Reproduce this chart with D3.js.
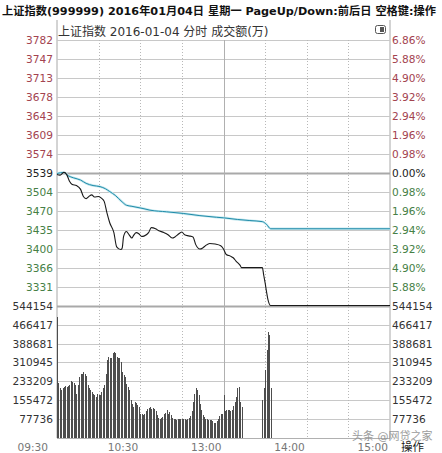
<!DOCTYPE html>
<html><head><meta charset="utf-8">
<script src="https://cdn.jsdelivr.net/npm/d3@7"></script>
<style>
html,body{margin:0;padding:0;background:#fff;}
svg{display:block;}
text{font-family:"DejaVu Sans","Noto Sans CJK SC",sans-serif;}
</style></head>
<body>
<svg id="c" width="442" height="453"></svg>
<script>
// ---- data ----
const titleText = "上证指数(999999) 2016年01月04日 星期一 PageUp/Down:前后日 空格键:操作";
const subTitle = "上证指数  2016-01-04 分时 成交额(万)";
const prevClose = 3539.18;
const priceLabels = ["3782","3747","3713","3678","3643","3609","3574","3539","3504","3470","3435","3400","3366","3331"];
const pctLabels = ["6.86%","5.88%","4.90%","3.92%","2.94%","1.96%","0.98%","0.00%","0.98%","1.96%","2.94%","3.92%","4.90%","5.88%"];
const pctSteps = [7,6,5,4,3,2,1,0,-1,-2,-3,-4,-5,-6];
const volLabels = ["544154","466417","388681","310945","233209","155472","77736"];
const volTicks = [544154,466417,388681,310945,233209,155472,77736];
const timeLabels = ["09:30","10:30","13:00","14:00","15:00"];
const timeLabelMinutes = [0,60,120,180,240];
const gridMinutes = [30,60,90,150,180,210];
const breakMinute = 120;

// price line (trading minute, index level)
const priceMinutes = [0,2,5,7,9,11,14,17,19,21,23,25,27,30,32,34,36,38,41,43,46,47,48,50,52,54,55,57,59,61,63,66,68,71,73,77,80,83,85,87,90,92,95,98,100,103,105,107,110,114,118,120,122,125,127,129,132,133,148,149,150,151,152,154,240];
const priceValues = [3536,3535,3540,3536,3524,3518,3516,3509,3496,3492,3496,3499,3495,3496,3493,3487,3466,3448,3430,3404,3399,3402,3423,3432,3426,3420,3424,3430,3428,3423,3424,3430,3439,3437,3434,3430,3426,3420,3422,3426,3431,3426,3424,3422,3408,3400,3402,3406,3410,3409,3406,3400,3390,3387,3384,3378,3370,3366,3366,3352,3338,3322,3308,3296.66,3296.66];

// average price line
const avgMinutes = [0,5,8,12,17,21,26,31,35,38,42,47,50,54,62,67,79,91,103,115,120,130,139,148,151,154,240];
const avgValues = [3538,3540,3534,3530,3526,3520,3516,3514,3510,3505,3498,3486,3480,3478,3474,3471,3468,3465,3461,3458,3457,3454,3452,3450,3445,3437,3437];

// turnover per minute (万), minutes 0..133 and 148..154
const volMinutes = [];
const volValues = [
499000,227000,205000,197000,205000,210000,213000,208000,212000,217000,
235000,231000,225000,217000,183000,220000,249000,262000,265000,272000,
262000,254000,217000,205000,199000,190000,180000,176000,169000,183000,
178000,176000,190000,205000,217000,265000,320000,334000,330000,327000,
348000,354000,350000,334000,330000,327000,313000,272000,260000,251000,
224000,210000,197000,155000,140000,128000,148000,142000,135000,128000,
100000,98000,94000,100000,110000,118000,124000,128000,121000,124000,
121000,110000,94000,82000,80000,82000,85000,100000,104000,114000,
100000,107000,94000,84000,80000,80000,76000,80000,78000,80000,
80000,78000,80000,76000,78000,82000,90000,110000,150000,183000,
204000,198000,175000,140000,115000,95000,85000,80000,80000,76000,
73000,73000,70000,62000,62000,70000,78000,90000,98000,100000,
175000,110000,114000,116000,114000,110000,114000,130000,150000,170000,
204000,208000,150000,128000,
155000,204000,279000,361000,437000,424000,204000];
for (let i = 0; i <= 133; i++) volMinutes.push(i);
for (let i = 148; i <= 154; i++) volMinutes.push(i);

// ---- drawing ----
const svg = d3.select("#c");
const L = 57, R = 390, TOP = 40, MID = 305.7, BOT = 438;
const x = d3.scaleLinear().domain([0,240]).range([L,R]);
const y = d3.scaleLinear().domain([prevClose*(1-0.0686), prevClose*(1+0.0686)]).range([MID, TOP]);
const yv = d3.scaleLinear().domain([0,544154]).range([BOT, MID]);

// title
svg.append("text").attr("x",2).attr("y",14.5)
  .attr("font-family","'Noto Sans CJK SC',sans-serif").attr("font-weight","bold")
  .attr("font-size",10.9).attr("fill","#111")
  .attr("textLength",434).attr("lengthAdjust","spacingAndGlyphs")
  .text(titleText);
svg.append("text").attr("x",58).attr("y",36)
  .attr("font-family","'Noto Sans CJK SC',sans-serif")
  .attr("font-size",12).attr("fill","#333")
  .text(subTitle);
// small icon
svg.append("rect").attr("x",375.5).attr("y",25.5).attr("width",10).attr("height",8).attr("rx",2)
  .attr("fill","#fff").attr("stroke","#555");
svg.append("rect").attr("x",380).attr("y",27).attr("width",4).attr("height",5).attr("fill","#555");

// frame verticals
svg.append("line").attr("x1",L).attr("x2",L).attr("y1",20).attr("y2",BOT).attr("stroke","#a8a8a8");
svg.append("line").attr("x1",R).attr("x2",R).attr("y1",20).attr("y2",BOT).attr("stroke","#a8a8a8");

// horizontal price grid
pctSteps.forEach((k,i) => {
  const yy = Math.round(y(prevClose*(1+k*0.0098)))+0.5;
  svg.append("line").attr("x1",L).attr("x2",R).attr("y1",yy).attr("y2",yy)
    .attr("stroke", k===0 ? "#a9a9a9" : "#c8c8c8").attr("stroke-width", k===0 ? 2 : 1);
  const col = k>0 ? "#a3434f" : (k===0 ? "#222" : "#467f46");
  svg.append("text").attr("x",53).attr("y",yy).attr("dy","0.36em").attr("text-anchor","end")
    .attr("font-size",10.6).attr("fill",col).text(priceLabels[i]);
  svg.append("text").attr("x",392).attr("y",yy).attr("dy","0.36em")
    .attr("font-size",10.6).attr("fill",col).text(pctLabels[i]);
});
// volume grid
volTicks.forEach((v,i) => {
  const yy = Math.round(yv(v))+0.5;
  svg.append("line").attr("x1",L).attr("x2",R).attr("y1",yy).attr("y2",yy)
    .attr("stroke", i===0 ? "#a9a9a9" : "#c8c8c8").attr("stroke-width", i===0 ? 2 : 1);
  svg.append("text").attr("x",53).attr("y",yy).attr("dy","0.36em").attr("text-anchor","end")
    .attr("font-size",10.6).attr("fill","#333").text(volLabels[i]);
  svg.append("text").attr("x",392).attr("y",yy).attr("dy","0.36em")
    .attr("font-size",10.6).attr("fill","#333").text(volLabels[i]);
});
svg.append("line").attr("x1",L).attr("x2",R).attr("y1",BOT+0.5).attr("y2",BOT+0.5).attr("stroke","#b0b0b0");

// vertical grid
gridMinutes.forEach(m => {
  const xx = Math.round(x(m))+0.5;
  svg.append("line").attr("x1",xx).attr("x2",xx).attr("y1",TOP).attr("y2",BOT)
    .attr("stroke","#b8b8b8").attr("stroke-dasharray","1,2");
});
{
  const xx = Math.round(x(breakMinute))+0.5;
  svg.append("line").attr("x1",xx).attr("x2",xx).attr("y1",TOP).attr("y2",BOT).attr("stroke","#b0b0b0");
}

// volume bars
svg.append("g").selectAll("rect").data(volValues).join("rect")
  .attr("x",(d,i)=>Math.round(x(volMinutes[i])))
  .attr("width",1)
  .attr("y",d=>Math.round(yv(d)))
  .attr("height",d=>BOT-Math.round(yv(d)))
  .attr("fill","#4d4d4d")
  .attr("shape-rendering","crispEdges");

// lines
const avgLine = d3.line().x((d,i)=>x(avgMinutes[i])).y(d=>y(d)).curve(d3.curveMonotoneX);
svg.append("path").attr("d",avgLine(avgValues)).attr("fill","none").attr("stroke","#c4e8ef").attr("stroke-width",2.4);
svg.append("path").attr("d",avgLine(avgValues)).attr("fill","none").attr("stroke","#1f8aa8").attr("stroke-width",1);
const priceLine = d3.line().x((d,i)=>x(priceMinutes[i])).y(d=>y(d)).curve(d3.curveMonotoneX);
svg.append("path").attr("d",priceLine(priceValues)).attr("fill","none").attr("stroke","#1a1a1a").attr("stroke-width",1.1);

// time labels
timeLabels.forEach((t,i) => {
  const m = timeLabelMinutes[i];
  const xx = m===0 ? x(m)-9 : x(m)-2;
  svg.append("text").attr("x",xx).attr("y",451).attr("text-anchor","end")
    .attr("font-size",10.6).attr("fill","#777").text(t);
});
// watermark and bottom-right
svg.append("text").attr("x",352).attr("y",440)
  .attr("font-family","'Noto Sans CJK SC',sans-serif").attr("font-size",11)
  .attr("fill","#8a8a8a").attr("opacity",0.85).text("头条 @网贷之家");
svg.append("text").attr("x",401).attr("y",451)
  .attr("font-family","'Noto Sans CJK SC',sans-serif").attr("font-size",11.5)
  .attr("fill","#222").text("操作");
</script>
</body></html>
